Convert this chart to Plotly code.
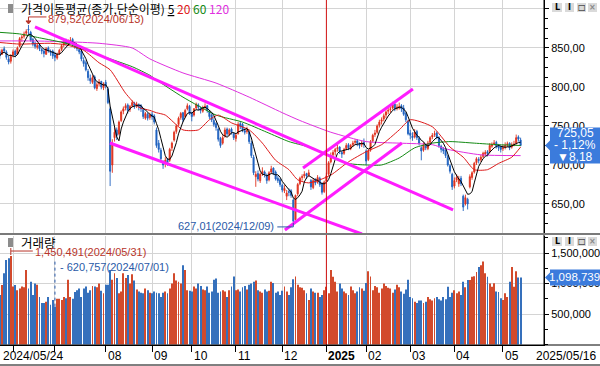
import pandas as pd
import plotly.graph_objects as go

# ---------------- data ----------------
START_DATE = "2024-05-24"
END_DATE = "2025-05-16"
HOLIDAYS = ["2024-06-06", "2024-08-15", "2024-09-16", "2024-09-17", "2024-09-18",
            "2024-10-01", "2024-10-03", "2024-10-09", "2024-12-25", "2024-12-31",
            "2025-01-01", "2025-01-27", "2025-01-28", "2025-01-29", "2025-01-30",
            "2025-03-03", "2025-05-01", "2025-05-05", "2025-05-06"]

OPEN = [
    845, 842, 849, 845, 836, 833,
    841, 846, 842, 852, 863, 865, 869, 874, 870, 861, 856, 851, 854, 848, 846, 842, 850, 845, 846,
    841, 837, 843, 848, 854, 859, 855, 857, 861, 853, 853, 848, 846, 834, 831, 820, 811, 806, 813, 798, 804, 807, 799,
    806, 797, 772, 700, 735, 745, 740, 757, 769, 773, 777, 771, 776, 779, 777, 777, 776, 771, 760, 765, 761,
    765, 763, 745, 728, 719, 702, 703, 707, 706, 722, 732, 743, 752, 761, 767, 762, 772, 775,
    767, 764, 773, 777, 773, 769, 774, 776, 768, 764, 757, 753, 746, 734, 728, 737, 746, 739, 746, 740,
    734, 740, 753, 752, 744, 743, 742, 728, 710, 685, 689, 680, 689, 691, 687, 681, 691, 696, 691, 683, 681,
    674, 667, 660, 666, 667, 655, 630, 663, 676, 684, 686, 689, 687, 680, 671, 681, 678, 683, 676, 666,
    679, 688, 704, 713, 717, 721, 723, 716, 715, 721, 726, 721, 726, 729, 731, 727, 726, 729,
    718, 707, 719, 731, 739, 742, 751, 756, 759, 764, 769, 771, 773, 778, 773, 773, 776, 773, 766, 756,
    741, 737, 736, 743, 734, 722, 719, 725, 721, 729, 736, 739, 741, 735, 724, 721, 719, 711, 699, 688,
    673, 681, 676, 683, 660, 650, 656, 672, 684, 691, 703, 707, 707, 711, 714, 717, 717, 724, 727, 729, 725, 723,
    721, 723, 726, 728, 723, 725, 728, 736, 732]
HIGH = [
    848, 849, 852, 847, 840, 842,
    848, 848, 852, 864, 867, 871, 874, 879.52, 872, 863, 858, 856, 856, 850, 848, 851, 852, 848, 848,
    845, 844, 849, 855, 860, 862, 861, 864, 863, 857, 855, 851, 848, 838, 834, 823, 816, 815, 815, 806, 810, 808, 806,
    809, 800, 775, 733, 748, 748, 757, 770, 775, 779, 779, 777, 783, 781, 781, 779, 778, 773, 768, 767, 767,
    768, 765, 748, 732, 722, 706, 710, 709, 722, 730, 744, 752, 762, 768, 768, 772, 779, 777,
    768, 773, 780, 779, 775, 776, 779, 777, 770, 766, 760, 755, 748, 736, 738, 748, 748, 747, 748, 742,
    741, 755, 756, 754, 747, 749, 744, 731, 713, 692, 693, 690, 697, 693, 689, 692, 699, 697, 693, 686, 683,
    676, 674, 668, 670, 669, 657, 662, 677, 685, 688, 692, 690, 694, 682, 683, 683, 687, 685, 678, 680,
    690, 705, 716, 719, 722, 726, 724, 718, 722, 728, 728, 727, 731, 733, 733, 729, 731, 734,
    720, 720, 732, 740, 745, 752, 758, 761, 766, 770, 773, 775, 781, 780, 778, 780, 778, 777, 768, 758,
    745, 742, 746, 745, 737, 724, 729, 727, 731, 737, 741, 744, 743, 737, 726, 723, 720, 713, 701, 690,
    684, 688, 686, 686, 662, 662, 658, 688, 692, 704, 710, 710, 713, 717, 719, 719, 728, 729, 732, 731, 727, 725,
    726, 729, 730, 729, 729, 731, 739, 738, 735]
LOW = [
    836, 841, 844, 835, 829, 830,
    838, 838, 841, 851, 858, 862, 866, 868, 858, 852, 849, 848, 846, 842, 838, 841, 844, 840, 836,
    833, 835, 841, 846, 851, 853, 853, 855, 852, 849, 846, 842, 833, 826, 820, 808, 804, 804, 797, 795, 801, 797, 796,
    798, 778, 673, 690, 730, 732, 738, 755, 765, 770, 766, 768, 774, 772, 773, 770, 768, 759, 758, 757, 758,
    758, 752, 722, 716, 704, 695, 697, 699, 704, 718, 730, 740, 750, 758, 755, 760, 770, 764,
    756, 762, 771, 770, 766, 767, 771, 767, 759, 755, 749, 744, 730, 722, 726, 735, 737, 737, 739, 732,
    730, 739, 746, 742, 739, 740, 727, 709, 687, 672, 679, 677, 686, 684, 676, 679, 689, 687, 680, 677, 672,
    665, 664, 655, 660, 658, 627.01, 629, 660, 674, 680, 683, 682, 685, 668, 669, 674, 676, 672, 662, 664,
    676, 686, 702, 709, 712, 717, 714, 709, 713, 719, 719, 719, 723, 726, 724, 721, 723, 722,
    700, 705, 717, 729, 736, 740, 748, 752, 756, 760, 765, 767, 771, 769, 770, 771, 768, 763, 755, 738,
    733, 731, 734, 732, 725, 706, 717, 719, 719, 727, 733, 736, 733, 722, 716, 714, 709, 698, 689, 668,
    670, 678, 672, 673, 641, 648, 643, 670, 681, 689, 700, 702, 704, 709, 712, 711, 715, 722, 725, 721, 718, 716,
    718, 720, 723, 719, 721, 724, 726, 730, 724]
CLOSE = [
    840, 847, 846, 838, 832, 839,
    845, 841, 850, 862, 864, 868, 871, 873, 860, 855, 852, 853, 849, 846, 843, 849, 846, 844, 840,
    838, 842, 847, 853, 858, 856, 859, 860, 855, 852, 849, 845, 836, 830, 822, 812, 808, 812, 799, 803, 806, 800, 804,
    801, 780, 692, 728, 742, 738, 755, 768, 772, 776, 770, 775, 780, 776, 778, 775, 772, 762, 766, 760, 764,
    762, 755, 725, 720, 708, 700, 706, 703, 720, 728, 742, 750, 760, 766, 758, 770, 776, 766,
    762, 772, 778, 774, 770, 773, 775, 770, 762, 758, 752, 748, 733, 725, 735, 745, 740, 745, 742, 735,
    738, 752, 750, 745, 742, 744, 730, 712, 690, 688, 682, 688, 692, 688, 680, 690, 695, 690, 682, 680, 675,
    668, 670, 664, 665, 661, 628, 661, 675, 683, 685, 688, 686, 690, 672, 680, 677, 684, 675, 665, 678,
    686, 703, 712, 716, 720, 722, 718, 714, 720, 725, 722, 725, 728, 730, 728, 725, 728, 726,
    705, 718, 730, 738, 741, 750, 755, 758, 763, 768, 770, 772, 777, 772, 774, 775, 772, 765, 758, 740,
    738, 735, 742, 735, 728, 718, 726, 722, 728, 735, 738, 740, 736, 725, 720, 718, 712, 700, 692, 672,
    680, 684, 682, 676, 646, 658, 650, 685, 690, 702, 708, 706, 710, 715, 716, 715, 725, 726, 728, 724, 722, 720,
    722, 725, 727, 722, 726, 727, 735, 733.23, 725.05]
VOLUME_K = [
    812, 976, 1167, 1385, 1412, 1450.491,
    950, 976, 890, 920, 950, 940, 1221, 920, 1030, 810, 1000, 980, 780, 680, 680, 700, 780, 650, 730,
    620.757, 750, 750, 730, 780, 760, 1060, 780, 750, 860, 890, 920, 780, 920, 950, 850, 890, 960, 950, 940, 1000, 880, 840,
    980, 980, 1221, 1060, 1167, 1090, 840, 870, 1167, 1090, 1140, 1000, 1150, 1050, 900, 870, 850, 840, 920, 890, 850,
    840, 870, 850, 840, 780, 850, 870, 840, 920, 1000, 1167, 1050, 1030, 1000, 1300, 1221, 890, 880,
    870, 950, 920, 1000, 960, 900, 890, 950, 850, 870, 1060, 1080, 850, 870, 890, 870, 780, 890, 950, 1113,
    890, 900, 870, 940, 960, 900, 980, 1000, 1030, 1050, 890, 870, 850, 900, 870, 880, 1030, 1010, 850, 870, 810,
    880, 950, 870, 810, 940, 1070, 1113, 980, 940, 930, 890, 840, 730, 920, 870, 850, 850, 780, 810, 890,
    948, 839, 1221, 1112, 1030, 870, 1000, 920, 870, 840, 810, 950, 890, 840, 870, 940, 920, 880,
    1010, 1200, 1113, 890, 960, 940, 850, 920, 1000, 960, 930, 920, 850, 900, 980, 940, 870, 830, 900, 1060,
    780, 760, 700, 680, 720, 720, 680, 700, 780, 740, 720, 760, 780, 740, 720, 780, 740, 948, 780, 850,
    890, 840, 870, 810, 1030, 940, 1057, 1057, 1112, 1120, 1190, 1270, 1300, 1360, 1167, 1112, 1000, 948, 1003, 870, 860, 760,
    730, 840, 780, 1030, 1270, 948, 1200, 1100, 1098.739]

# moving averages (trading-day index, value)
MA20_IDX = [0, 9, 23, 30, 38, 45, 50, 57, 63, 68, 71, 75, 83, 90, 95, 99, 105, 113, 119, 125, 131, 135, 140, 145, 150, 158, 166, 173, 181, 186, 196, 204, 210, 215, 221, 226, 232, 236]
MA20_VAL = [857, 855, 856, 854, 847, 831, 822, 792, 774, 770, 767, 764, 745, 745, 758, 764, 754, 745, 728, 706, 694, 681, 677, 681, 687, 704, 717, 726, 745, 758, 749, 723, 710, 694, 694, 702, 710, 723]
MA60_IDX = [0, 9, 18, 30, 39, 48, 60, 68, 71, 83, 98, 110, 121, 131, 140, 158, 166, 173, 181, 188, 196, 204, 215, 226, 236]
MA60_VAL = [870, 868, 863, 856, 847, 838, 826, 815, 809, 787, 764, 755, 742, 730, 723, 702, 700, 700, 709, 722, 728, 730, 728, 726, 725]
MA120_IDX = [0, 15, 30, 45, 60, 68, 83, 98, 113, 128, 136, 150, 166, 181, 196, 203, 218, 236]
MA120_VAL = [859, 859, 858, 856, 850, 836, 818, 805, 787, 767, 757, 742, 730, 728, 726, 720, 713, 712]

# hand-drawn trend lines (index, value) pairs
TREND_X = [[15.95, 205.4], [49.9, 164.1], [137.4, 187.2], [129.2, 182.2]]
TREND_Y = [[876.9, 642.3], [728.2, 611.5], [696.2, 797.4], [616.7, 728.2]]

PRICE_TICKS = [650, 700, 750, 800, 850, 900]
VOLUME_TICKS = [500000, 1000000, 1500000]
MONTH_TEXT = {8: "08", 9: "09", 10: "10", 11: "11", 12: "12", 1: "2025", 2: "02", 3: "03", 4: "04", 5: "05"}

# ---------------- derived ----------------
n = len(CLOSE)
days = [d for d in pd.bdate_range(START_DATE, END_DATE) if d.strftime("%Y-%m-%d") not in HOLIDAYS][:n]
idx = list(range(n))
volume = [v * 1000 for v in VOLUME_K]
ma5 = pd.Series(CLOSE).rolling(5, min_periods=1).mean().tolist()
month_starts = [i for i in range(1, n) if days[i].month != days[i - 1].month]
year_idx = [i for i in month_starts if days[i].month == 1][0]

RED, BLUE = "#e0321e", "#1f62c0"
VRED, VBLUE = "#d24a2c", "#3570bc"
GRID = "#d4d4d4"
BADGE = "#3b7bdc"
TXT_RED, TXT_BLUE = "#b8352a", "#2a5aa8"
NUMFONT = "Liberation Sans"

# layout geometry (pixels)
W, H = 600, 366
MR, MB = 56, 21
PW, PH = W - MR, H - MB
PRICE_BOTTOM = 233
VOL_TOP = 236
X_RANGE = [0.1, 246.6]
Y_RANGE = [612.8, 911.5]
V_RANGE = [-8200, 1778700]


def P(px):
    return px / PW


def Q(py):
    return 1 - py / PH


def price_py(v):
    return (Y_RANGE[1] - v) / (Y_RANGE[1] - Y_RANGE[0]) * PRICE_BOTTOM


def vol_py(v):
    return VOL_TOP + (V_RANGE[1] - v) / (V_RANGE[1] - V_RANGE[0]) * (PH - VOL_TOP)


def kfmt(v):
    return f"{v:.2f}".replace(".", ",")


fig = go.Figure()

fig.add_trace(go.Candlestick(
    x=idx, open=OPEN, high=HIGH, low=LOW, close=CLOSE, xaxis="x", yaxis="y",
    increasing=dict(line=dict(color=RED, width=0.9), fillcolor=RED),
    decreasing=dict(line=dict(color=BLUE, width=0.9), fillcolor=BLUE),
    whiskerwidth=0, showlegend=False, hoverinfo="skip"))

fig.add_trace(go.Scatter(x=MA120_IDX, y=MA120_VAL, mode="lines", line=dict(color="#e030e0", width=1, shape="spline", smoothing=0.6), xaxis="x", yaxis="y", showlegend=False, hoverinfo="skip"))
fig.add_trace(go.Scatter(x=MA60_IDX, y=MA60_VAL, mode="lines", line=dict(color="#138a13", width=1, shape="spline", smoothing=0.6), xaxis="x", yaxis="y", showlegend=False, hoverinfo="skip"))
fig.add_trace(go.Scatter(x=MA20_IDX, y=MA20_VAL, mode="lines", line=dict(color="#dd1a1a", width=1, shape="spline", smoothing=0.6), xaxis="x", yaxis="y", showlegend=False, hoverinfo="skip"))
fig.add_trace(go.Scatter(x=idx, y=ma5, mode="lines", line=dict(color="#000000", width=1), xaxis="x", yaxis="y", showlegend=False, hoverinfo="skip"))

for tx, ty in zip(TREND_X, TREND_Y):
    fig.add_trace(go.Scatter(x=tx, y=ty, mode="lines", line=dict(color="#ff1cff", width=3), xaxis="x", yaxis="y", showlegend=False, hoverinfo="skip"))

vcolors = [VRED if c >= o else VBLUE for o, c in zip(OPEN, CLOSE)]
fig.add_trace(go.Bar(x=idx, y=volume, marker=dict(color=vcolors, line=dict(width=0)), width=0.4, xaxis="x2", yaxis="y2", showlegend=False, hoverinfo="skip"))

shapes = []
annotations = []

# year line
shapes.append(dict(type="line", xref="x", yref="paper", x0=year_idx, x1=year_idx, y0=0, y1=1, line=dict(color="#d01010", width=1), layer="above"))
# right axis line through both panels
shapes.append(dict(type="line", xref="paper", yref="paper", x0=1, x1=1, y0=0, y1=1, line=dict(color="#000", width=1)))
# date band lines
shapes.append(dict(type="line", xref="paper", yref="paper", x0=0, x1=P(W), y0=Q(PH), y1=Q(PH), line=dict(color="#000", width=1)))
shapes.append(dict(type="line", xref="paper", yref="paper", x0=0, x1=P(W), y0=Q(365), y1=Q(365), line=dict(color="#000", width=1)))
shapes.append(dict(type="line", xref="paper", yref="paper", x0=0, x1=P(W), y0=Q(234), y1=Q(234), line=dict(color="#7a7a7a", width=2)))

# header squares
for top in (4, 238):
    shapes.append(dict(type="rect", xref="paper", yref="paper", x0=P(8), x1=P(13), y0=Q(top), y1=Q(top + 9), fillcolor="#8c8c8c", line=dict(width=0)))

# header texts
annotations.append(dict(xref="paper", yref="paper", x=P(19), y=Q(8.5), xanchor="left", yanchor="middle", showarrow=False,
                        text="가격이동평균(종가,단순이평) <u>5</u> <span style='color:#e01818'>20</span> <span style='color:#138a13'>60</span> <span style='color:#e030e0'>120</span>",
                        font=dict(family="Noto Sans CJK KR", size=12, color="#000")))
annotations.append(dict(xref="paper", yref="paper", x=P(19), y=Q(242.5), xanchor="left", yanchor="middle", showarrow=False,
                        text="거래량", font=dict(family="Noto Sans CJK KR", size=12.5, color="#000")))

# max / min labels
hi_i = max(range(n), key=lambda i: HIGH[i])
lo_i = min(range(n), key=lambda i: LOW[i])
vmax_i = max(range(n), key=lambda i: volume[i])
vmin_i = min(range(n), key=lambda i: volume[i])

annotations.append(dict(xref="x", yref="y", x=hi_i, y=HIGH[hi_i], xanchor="left", yanchor="middle", xshift=18, yshift=6, showarrow=False,
                        text=f"{kfmt(HIGH[hi_i])}({days[hi_i].strftime('%Y/%m/%d')})", font=dict(family=NUMFONT, size=11, color=TXT_RED)))
shapes.append(dict(type="line", xref="x", yref="y", xsizemode="pixel", ysizemode="pixel", xanchor=hi_i, yanchor=HIGH[hi_i], x0=0, x1=18, y0=8, y1=8, line=dict(color=TXT_RED, width=1)))
shapes.append(dict(type="line", xref="x", yref="y", xsizemode="pixel", ysizemode="pixel", xanchor=hi_i, yanchor=HIGH[hi_i], x0=0, x1=0, y0=8, y1=3, line=dict(color=TXT_RED, width=1)))
shapes.append(dict(type="path", xref="x", yref="y", xsizemode="pixel", ysizemode="pixel", xanchor=hi_i, yanchor=HIGH[hi_i], path="M -2.5,4 L 2.5,4 L 0,1 Z", fillcolor=TXT_RED, line=dict(color=TXT_RED, width=1)))

annotations.append(dict(xref="x", yref="y", x=lo_i, y=LOW[lo_i], xanchor="right", yanchor="middle", xshift=-17, yshift=-4, showarrow=False,
                        text=f"{kfmt(LOW[lo_i])}({days[lo_i].strftime('%Y/%m/%d')})", font=dict(family=NUMFONT, size=11, color=TXT_BLUE)))
shapes.append(dict(type="line", xref="x", yref="y", xsizemode="pixel", ysizemode="pixel", xanchor=lo_i, yanchor=LOW[lo_i], x0=-16, x1=0, y0=-5, y1=-5, line=dict(color=TXT_BLUE, width=1)))
shapes.append(dict(type="line", xref="x", yref="y", xsizemode="pixel", ysizemode="pixel", xanchor=lo_i, yanchor=LOW[lo_i], x0=0, x1=0, y0=-5, y1=-1, line=dict(color=TXT_BLUE, width=1)))

annotations.append(dict(xref="x", yref="y2", x=vmax_i, y=volume[vmax_i], xanchor="left", yanchor="middle", xshift=22, yshift=4, showarrow=False,
                        text=f"{int(round(volume[vmax_i])):,}({days[vmax_i].strftime('%Y/%m/%d')})", font=dict(family=NUMFONT, size=11, color=TXT_RED)))
shapes.append(dict(type="line", xref="x", yref="y2", xsizemode="pixel", ysizemode="pixel", xanchor=vmax_i, yanchor=volume[vmax_i], x0=0, x1=22, y0=5, y1=5, line=dict(color=TXT_RED, width=1)))
shapes.append(dict(type="line", xref="x", yref="y2", xsizemode="pixel", ysizemode="pixel", xanchor=vmax_i, yanchor=volume[vmax_i], x0=0, x1=0, y0=8, y1=1, line=dict(color=TXT_RED, width=1)))

annotations.append(dict(xref="x", yref="y2", x=vmin_i, y=volume[vmin_i], xanchor="left", yanchor="middle", xshift=3, yshift=40, showarrow=False,
                        text=f"- {int(round(volume[vmin_i])):,}({days[vmin_i].strftime('%Y/%m/%d')})", font=dict(family=NUMFONT, size=11, color=TXT_BLUE)))
shapes.append(dict(type="line", xref="x", yref="y2", xsizemode="pixel", ysizemode="pixel", xanchor=vmin_i, yanchor=volume[vmin_i], x0=0, x1=0, y0=0, y1=46, line=dict(color=TXT_BLUE, width=1, dash="dot")))

# buttons
for top in (3, 237):
    for (x0, x1), g, col in zip([(552, 562), (565, 574), (577, 586), (588, 597)], ["L", "I", "□", "×"], ["#000", "#000", "#000", "#888"]):
        shapes.append(dict(type="rect", xref="paper", yref="paper", x0=P(x0), x1=P(x1), y0=Q(top), y1=Q(top + 9), fillcolor="#dadada", line=dict(width=0)))
        annotations.append(dict(xref="paper", yref="paper", x=P((x0 + x1) / 2), y=Q(top + 4.5), xanchor="center", yanchor="middle", showarrow=False,
                                text=f"<b>{g}</b>", font=dict(family="DejaVu Sans", size=8, color=col)))

# price badge
last, prev = CLOSE[-1], CLOSE[-2]
diff = last - prev
pct = diff / prev * 100
cy = price_py(last)
shapes.append(dict(type="path", xref="paper", yref="paper",
                   path=f"M {P(545)},{Q(cy)} L {P(550)},{Q(cy-5)} L {P(550)},{Q(cy-18)} L {P(600)},{Q(cy-18)} L {P(600)},{Q(cy+18)} L {P(550)},{Q(cy+18)} L {P(550)},{Q(cy+5)} Z",
                   fillcolor=BADGE, line=dict(width=0)))
sign = "-" if diff < 0 else "+"
arrow = "▼" if diff < 0 else "▲"
for dy, t in [(-12, kfmt(last)), (0, f"{sign} {kfmt(abs(pct))}%"), (12, f"{arrow}{kfmt(abs(diff))}")]:
    annotations.append(dict(xref="paper", yref="paper", x=P(575), y=Q(cy + dy), xanchor="center", yanchor="middle", showarrow=False,
                            text=t, font=dict(family=NUMFONT, size=12, color="#fff")))

# volume badge
vy = vol_py(volume[-1])
shapes.append(dict(type="path", xref="paper", yref="paper",
                   path=f"M {P(545)},{Q(vy)} L {P(550)},{Q(vy-5)} L {P(550)},{Q(vy-8)} L {P(600)},{Q(vy-8)} L {P(600)},{Q(vy+8)} L {P(550)},{Q(vy+8)} L {P(550)},{Q(vy+5)} Z",
                   fillcolor=BADGE, line=dict(width=0)))
annotations.append(dict(xref="paper", yref="paper", x=P(574), y=Q(vy), xanchor="center", yanchor="middle", showarrow=False,
                        text=f"{int(round(volume[-1])):,}", font=dict(family=NUMFONT, size=11.5, color="#fff")))

# date labels
annotations.append(dict(xref="paper", yref="paper", x=P(1), y=Q(356), xanchor="left", yanchor="middle", showarrow=False,
                        text=days[0].strftime("%Y/%m/%d"), font=dict(family=NUMFONT, size=12, color="#000")))
for i in month_starts:
    m = days[i].month
    if m in MONTH_TEXT:
        t = MONTH_TEXT[m]
        if m == 1:
            t = f"<b>{t}</b>"
        annotations.append(dict(xref="x", yref="paper", x=i, y=Q(356), xanchor="left", yanchor="middle", xshift=0, showarrow=False,
                                text=t, font=dict(family=NUMFONT, size=12, color="#000")))
annotations.append(dict(xref="paper", yref="paper", x=P(598), y=Q(356), xanchor="right", yanchor="middle", showarrow=False,
                        text=days[-1].strftime("%Y/%m/%d"), font=dict(family=NUMFONT, size=12, color="#000")))

grid_idx = [i for i in month_starts if i != year_idx]
price_text = [kfmt(v) if v < 900 else "" for v in PRICE_TICKS]
vol_text = [f"{v:,}" for v in VOLUME_TICKS]

fig.update_layout(
    width=W, height=H, margin=dict(l=0, r=MR, t=0, b=MB),
    paper_bgcolor="#fff", plot_bgcolor="#fff", showlegend=False,
    xaxis=dict(domain=[0, 1], anchor="y", range=X_RANGE, tickmode="array", tickvals=grid_idx, showticklabels=False, ticks="",
               showgrid=True, gridcolor=GRID, gridwidth=1, zeroline=False, showline=False, rangeslider=dict(visible=False), fixedrange=True),
    yaxis=dict(domain=[Q(PRICE_BOTTOM), 1], anchor="x", side="right", range=Y_RANGE, tickmode="array", tickvals=PRICE_TICKS, ticktext=price_text,
               showgrid=True, gridcolor=GRID, zeroline=False, showline=True, linecolor="#000", ticks="outside", ticklen=4, tickcolor="#000",
               minor=dict(tickmode="linear", tick0=600, dtick=12.5, ticks="outside", ticklen=3, tickcolor="#000", showgrid=False),
               tickfont=dict(family=NUMFONT, size=11, color="#000")),
    xaxis2=dict(domain=[0, 1], anchor="y2", range=X_RANGE, tickmode="array", tickvals=[0] + month_starts, showticklabels=False,
                ticks="outside", ticklen=6, tickcolor="#000", showgrid=True, gridcolor=GRID, zeroline=False, showline=True, linecolor="#000", fixedrange=True),
    yaxis2=dict(domain=[0, Q(VOL_TOP)], anchor="x2", side="right", range=V_RANGE, tickmode="array", tickvals=VOLUME_TICKS, ticktext=vol_text,
                showgrid=True, gridcolor=GRID, zeroline=False, showline=True, linecolor="#000", ticks="outside", ticklen=4, tickcolor="#000",
                minor=dict(tickmode="linear", tick0=0, dtick=250000, ticks="outside", ticklen=3, tickcolor="#000", showgrid=False),
                tickfont=dict(family=NUMFONT, size=11, color="#000")),
    shapes=shapes, annotations=annotations,
)

fig.write_html("out.html", config={"displayModeBar": False},
               post_script="document.body.style.margin='0';document.body.style.padding='0';")
